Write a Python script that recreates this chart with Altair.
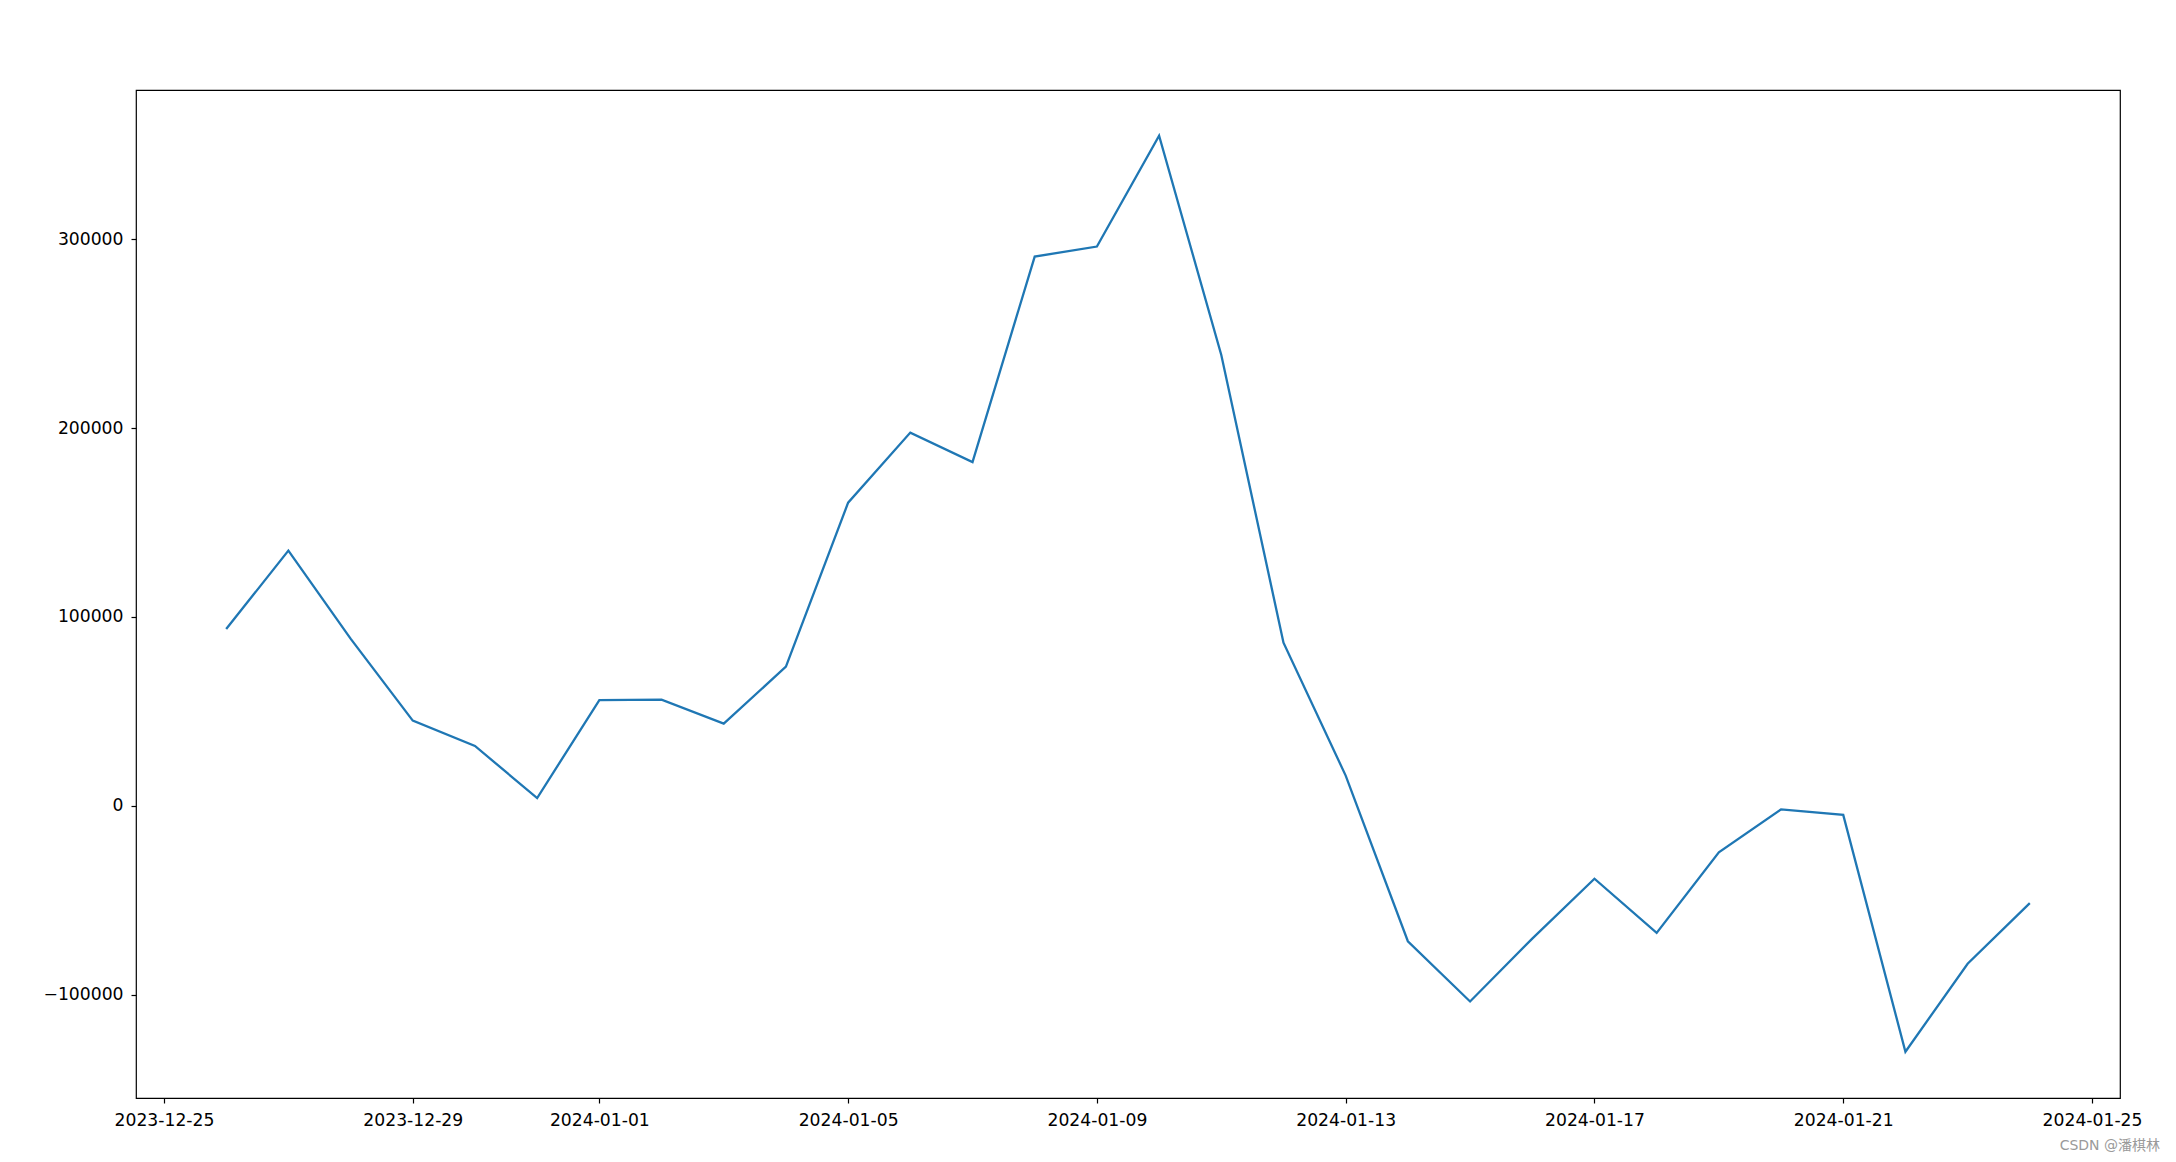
import altair as alt
import pandas as pd

dates = [
    "2023-12-26", "2023-12-27", "2023-12-28", "2023-12-29", "2023-12-30",
    "2023-12-31", "2024-01-01", "2024-01-02", "2024-01-03", "2024-01-04",
    "2024-01-05", "2024-01-06", "2024-01-07", "2024-01-08", "2024-01-09",
    "2024-01-10", "2024-01-11", "2024-01-12", "2024-01-13", "2024-01-14",
    "2024-01-15", "2024-01-16", "2024-01-17", "2024-01-18", "2024-01-19",
    "2024-01-20", "2024-01-21", "2024-01-22", "2024-01-23", "2024-01-24",
]
values = [
    93600, 135100, 88500, 45100, 31700,
    4100, 56000, 56200, 43500, 73700,
    160500, 197600, 182000, 290800, 296100,
    354800, 238700, 86400, 16000, -71700,
    -103600, -70300, -38600, -67300, -24600,
    -1900, -4800, -130200, -83600, -51500,
]
x_tick_dates = [
    (2023, 12, 25), (2023, 12, 29), (2024, 1, 1), (2024, 1, 5), (2024, 1, 9),
    (2024, 1, 13), (2024, 1, 17), (2024, 1, 21), (2024, 1, 25),
]
y_ticks = [-100000, 0, 100000, 200000, 300000]
watermark = ["CSDN @潘棋林"]

df = pd.DataFrame({"date": dates, "value": values})

FONT = "DejaVu Sans, Noto Sans CJK SC"

x_axis = alt.Axis(
    title=None,
    values=[alt.DateTime(year=y, month=m, date=d, utc=True) for (y, m, d) in x_tick_dates],
    labelExpr="utcFormat(datum.value, '%Y-%m-%d')",
    labelFont=FONT,
    labelFontSize=17.2,
    labelColor="black",
    labelPadding=8,
    labelFlush=False,
    labelOverlap=False,
    tickColor="black",
    tickWidth=1.2,
    tickSize=5,
    domain=False,
    grid=False,
)
y_axis = alt.Axis(
    title=None,
    values=y_ticks,
    format="d",
    labelFont=FONT,
    labelFontSize=17.2,
    labelColor="black",
    labelPadding=8,
    tickColor="black",
    tickWidth=1.2,
    tickSize=5,
    domain=False,
    grid=False,
)

line = alt.Chart(df).mark_line(color="#1f77b4", strokeWidth=2.3, clip=True).encode(
    x=alt.X(
        "utcyearmonthdate(date):T",
        axis=x_axis,
        scale=alt.Scale(
            type="utc",
            domain=[
                alt.DateTime(year=2023, month=12, date=24, hours=13, minutes=12, utc=True),
                alt.DateTime(year=2024, month=1, date=25, hours=10, minutes=48, utc=True),
            ],
        ),
    ),
    y=alt.Y(
        "value:Q",
        axis=y_axis,
        scale=alt.Scale(domain=[-154700, 379000], nice=False, zero=False),
    ),
)

wm = alt.Chart(pd.DataFrame({"t": watermark})).mark_text(
    font=FONT, fontSize=14, color="#9a9a9a", align="right", baseline="bottom"
).encode(
    text="t:N",
    x=alt.value(2024),
    y=alt.value(1063),
)

chart = (
    alt.layer(line, wm)
    .properties(
        width=1984,
        height=1008,
        autosize=alt.AutoSizeParams(type="none"),
        padding={"left": 128, "top": 82, "right": 48, "bottom": 56},
        background="white",
    )
    .configure_view(stroke="black", strokeWidth=1.2)
)

chart.save("out.html", embed_options={"renderer": "svg", "actions": False})
